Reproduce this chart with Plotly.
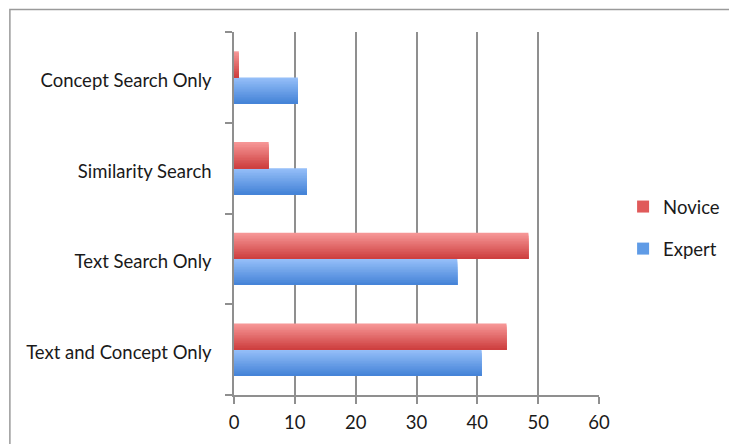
import plotly.graph_objects as go

categories = ["Text and Concept Only", "Text Search Only", "Similarity Search", "Concept Search Only"]
expert = [40.7, 36.7, 12.0, 10.5]
novice = [44.8, 48.4, 5.7, 0.8]
x_ticks = [0, 10, 20, 30, 40, 50, 60]

FONT = "Lato"
FS = 18.5
N = 16
BAR_W = 0.287

def lerp(c1, c2, t):
    return "rgb(%d,%d,%d)" % tuple(round(a + (b - a) * t) for a, b in zip(c1, c2))

fig = go.Figure()

# gradient layers: expert below center, novice above center
series = [
    ("Expert", expert, (148, 190, 248), (70, 132, 216), -BAR_W, "#5F9BE6", 2),
    ("Novice", novice, (246, 150, 150), (206, 64, 64), 0.0, "#E05A5A", 1),
]
for name, vals, top, bot, base_off, mid, rank in series:
    sw = BAR_W / N
    for i in range(N):
        t = i / (N - 1)
        fig.add_trace(go.Bar(
            y=categories, x=vals, orientation="h",
            width=BAR_W - i * sw, offset=base_off,
            marker=dict(color=lerp(top, bot, t), line=dict(width=0)),
            showlegend=False, hoverinfo="skip",
        ))
    fig.add_trace(go.Bar(
        y=[None], x=[None], orientation="h", name=name,
        marker=dict(color=mid, line=dict(width=0)),
        legendgroup=name, legendrank=rank,
    ))

fig.update_layout(
    width=737, height=444,
    margin=dict(l=226, r=146, t=24, b=57),
    barmode="overlay",
    paper_bgcolor="white", plot_bgcolor="white",
    font=dict(family=FONT, size=FS, color="#1a1a1a"),
    showlegend=True,
    legend=dict(
        x=1.066, xanchor="left", y=0.46, yanchor="middle",
        traceorder="grouped", tracegroupgap=15,
        font=dict(family=FONT, size=FS, color="#1a1a1a"),
        itemwidth=30,
    ),
    xaxis=dict(
        range=[0, 60], tickvals=x_ticks, ticktext=[str(v) for v in x_ticks],
        showgrid=True, gridcolor="#8f8f8f", gridwidth=1.5,
        showline=True, linecolor="#8f8f8f", linewidth=1.5,
        ticks="outside", ticklen=7, tickcolor="#8f8f8f", tickwidth=1.5,
        zeroline=False, fixedrange=True, ticklabelstandoff=3,
        tickfont=dict(family=FONT, size=FS, color="#1a1a1a"),
    ),
    yaxis=dict(
        type="category", categoryorder="array", categoryarray=categories,
        range=[-0.5, 3.5],
        showline=True, linecolor="#8f8f8f", linewidth=1.5,
        ticks="outside", tickson="boundaries", ticklen=7, tickcolor="#8f8f8f", tickwidth=1.5,
        showgrid=False, zeroline=False, fixedrange=True,
        ticklabelstandoff=17, ticklabelshift=3,
        tickfont=dict(family=FONT, size=FS, color="#1a1a1a"),
    ),
    shapes=[dict(
        type="rect", xref="paper", yref="paper",
        x0=-0.614, x1=2.0, y0=-0.5, y1=1.062,
        line=dict(color="#9a9a9a", width=1.5), fillcolor="rgba(0,0,0,0)",
        layer="below",
    )],
)

fig.write_html("out.html")
